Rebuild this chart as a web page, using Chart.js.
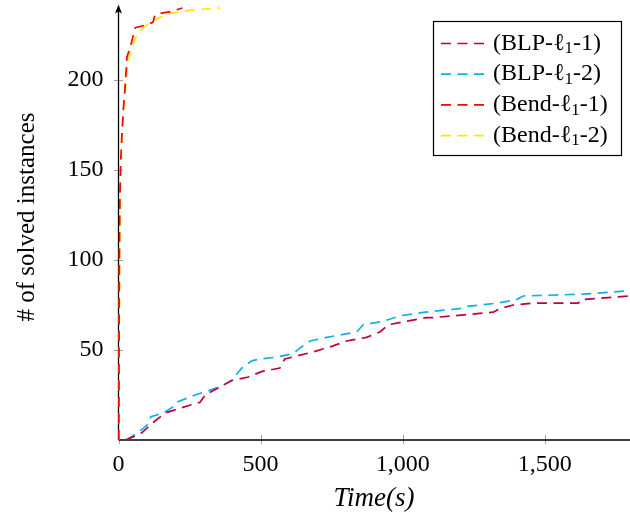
<!DOCTYPE html>
<html>
<head>
<meta charset="utf-8">
<script src="https://cdn.jsdelivr.net/npm/chart.js@4/dist/chart.umd.min.js"></script>
<style>
  html, body { margin: 0; padding: 0; background: #fff; }
  canvas { display: block; }
</style>
</head>
<body>
<canvas id="solved" width="630" height="515"></canvas>
<script>
// solve times (s) and cumulative number of solved instances
const blp1Time   = [25, 55, 82, 116, 164, 223, 287, 305, 352, 398, 457, 503, 568, 585, 686, 750, 803, 873, 920, 949, 1014, 1084, 1107, 1319, 1342, 1389, 1460, 1618, 1629, 1800];
const blp1Solved = [0, 2, 4, 9, 15, 18, 21, 25, 29, 33, 35, 38, 40, 45, 49, 52, 55, 57, 60, 64, 66, 68, 68, 71, 73, 75, 76, 76, 78, 80];

const blp2Time   = [28, 76, 105, 114, 158, 198, 205, 269, 328, 363, 398, 434, 469, 498, 555, 615, 638, 674, 732, 838, 861, 932, 991, 1079, 1201, 1214, 1330, 1401, 1424, 1635, 1800];
const blp2Solved = [0, 5, 9, 13, 15, 19, 21, 25, 28, 30, 33, 40, 44, 45, 46, 48, 51, 55, 57, 60, 64, 66, 69, 71, 73, 74, 76, 78, 80, 81, 83];

const bend1Time   = [1, 2, 3, 5, 8, 12, 18, 24, 30, 41, 59, 83, 103, 121, 128, 146, 184, 225];
const bend1Solved = [0, 50, 100, 137, 155, 170, 186, 198, 213, 218, 229, 230, 231, 232, 236, 237, 238, 240];

const bend2Time   = [1, 2, 4, 6, 9, 13, 19, 26, 33, 44, 64, 95, 134, 180, 262, 357];
const bend2Solved = [0, 50, 100, 137, 155, 170, 186, 198, 210, 217, 225, 230, 234, 237, 239, 240];

const seriesNames  = ['(BLP-ℓ₁-1)', '(BLP-ℓ₁-2)', '(Bend-ℓ₁-1)', '(Bend-ℓ₁-2)'];
const seriesColors = ['#bf0040', '#13aee8', '#ff0000', '#ffe600'];

const xTicks = [0, 500, 1000, 1500];
const yTicks = [50, 100, 150, 200];

const SERIF = '"Liberation Serif", "Times New Roman", serif';

function points(xs, ys) {
  return xs.map((x, i) => ({ x: x, y: ys[i] }));
}

const series = [
  points(blp1Time, blp1Solved),
  points(blp2Time, blp2Solved),
  points(bend1Time, bend1Solved),
  points(bend2Time, bend2Solved)
];

const dash = [10, 6.5];

// draws a label, turning "₁" into a small lowered 1
function drawLabel(ctx, text, x, y, size) {
  let cx = x;
  for (const part of text.split(/(₁)/)) {
    if (!part) continue;
    if (part === '₁') {
      ctx.font = Math.round(size * 0.7) + 'px ' + SERIF;
      ctx.fillText('1', cx, y + size * 0.22);
      cx += ctx.measureText('1').width;
    } else {
      ctx.font = size + 'px ' + SERIF;
      ctx.fillText(part, cx, y);
      cx += ctx.measureText(part).width;
    }
  }
}

const axesPlugin = {
  id: 'axesPlugin',
  beforeDatasetsDraw(chart) {
    const ctx = chart.ctx;
    const a = chart.chartArea;
    const xs = chart.scales.x, ys = chart.scales.y;
    ctx.save();
    // tick marks across the axis lines
    ctx.strokeStyle = '#a0a0a0';
    ctx.lineWidth = 1;
    yTicks.forEach(v => {
      const py = Math.round(ys.getPixelForValue(v)) + 0.5;
      ctx.beginPath(); ctx.moveTo(a.left - 4.5, py); ctx.lineTo(a.left + 4.5, py); ctx.stroke();
    });
    xTicks.forEach(v => {
      const px = Math.round(xs.getPixelForValue(v)) + 0.5;
      ctx.beginPath(); ctx.moveTo(px, a.bottom - 5); ctx.lineTo(px, a.bottom + 4); ctx.stroke();
    });
    // axis lines
    ctx.strokeStyle = '#000';
    ctx.lineWidth = 1.3;
    ctx.beginPath();
    ctx.moveTo(a.left, a.bottom);
    ctx.lineTo(chart.width, a.bottom);
    ctx.moveTo(a.left, a.bottom);
    ctx.lineTo(a.left, a.top + 3);
    ctx.stroke();
    // arrow head on the y axis
    ctx.fillStyle = '#000';
    ctx.beginPath();
    ctx.moveTo(a.left, a.top);
    ctx.lineTo(a.left + 3.5, a.top + 9);
    ctx.lineTo(a.left, a.top + 7);
    ctx.lineTo(a.left - 3.5, a.top + 9);
    ctx.closePath();
    ctx.fill();
    ctx.restore();
  },
  afterDraw(chart) {
    const ctx = chart.ctx;
    ctx.save();
    // axis titles
    ctx.fillStyle = '#000';
    ctx.textAlign = 'center';
    ctx.textBaseline = 'middle';
    ctx.font = 'italic 27px ' + SERIF;
    ctx.fillText('Time(s)', 374, 499);
    ctx.translate(27, 217);
    ctx.rotate(-Math.PI / 2);
    ctx.font = '25px ' + SERIF;
    ctx.fillText('# of solved instances', 0, 0);
    ctx.restore();

    // legend box
    ctx.save();
    ctx.fillStyle = '#fff';
    ctx.fillRect(433.5, 21.5, 188, 134);
    ctx.strokeStyle = '#000';
    ctx.lineWidth = 1.2;
    ctx.strokeRect(433.5, 21.5, 188, 134);
    ctx.textAlign = 'left';
    ctx.textBaseline = 'middle';
    chart.data.datasets.forEach((ds, i) => {
      const y = 43.5 + i * 30.7;
      ctx.strokeStyle = ds.borderColor;
      ctx.lineWidth = 1.7;
      ctx.setLineDash(dash);
      ctx.beginPath(); ctx.moveTo(441, y); ctx.lineTo(484, y); ctx.stroke();
      ctx.setLineDash([]);
      ctx.fillStyle = '#000';
      drawLabel(ctx, ds.label, 493, y, 24);
    });
    ctx.restore();
  }
};

new Chart(document.getElementById('solved'), {
  type: 'line',
  data: {
    datasets: series.map((pts, i) => ({
      label: seriesNames[i],
      data: pts,
      borderColor: seriesColors[i],
      backgroundColor: seriesColors[i],
      borderWidth: 1.7,
      borderDash: dash,
      pointRadius: 0,
      tension: 0,
      fill: false,
      clip: false
    }))
  },
  options: {
    responsive: false,
    animation: false,
    events: [],
    layout: { padding: { top: 4.4, right: 0, bottom: 0, left: 0 } },
    plugins: { legend: { display: false }, tooltip: { enabled: false } },
    scales: {
      x: {
        type: 'linear',
        min: 0,
        max: 1800,
        afterFit: s => { s.height = 75; s.paddingLeft = 0; s.paddingRight = 0; },
        afterBuildTicks: s => { s.ticks = xTicks.map(v => ({ value: v })); },
        grid: { display: false, drawTicks: false },
        border: { display: false },
        ticks: {
          padding: 10,
          color: '#000',
          maxRotation: 0,
          font: { family: SERIF, size: 24 },
          callback: v => v.toLocaleString('en-US')
        }
      },
      y: {
        type: 'linear',
        min: 0,
        max: 242,
        afterFit: s => { s.width = 118.5; s.paddingTop = 0; s.paddingBottom = 0; },
        afterBuildTicks: s => { s.ticks = yTicks.map(v => ({ value: v })); },
        grid: { display: false, drawTicks: false },
        border: { display: false },
        ticks: {
          padding: 15,
          color: '#000',
          font: { family: SERIF, size: 24 },
          callback: v => String(v)
        }
      }
    }
  },
  plugins: [axesPlugin]
});
</script>
</body>
</html>
